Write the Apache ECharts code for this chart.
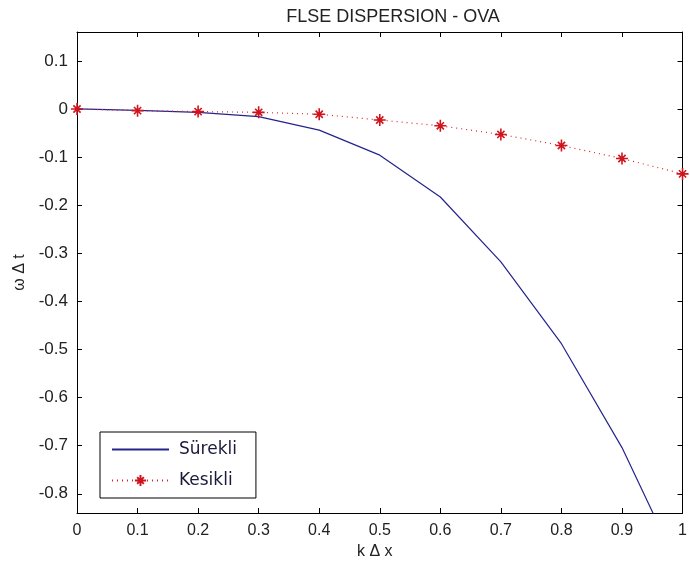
<!DOCTYPE html>
<html>
<head>
    <meta charset="UTF-8">
    <title>FLSE DISPERSION - OVA</title>
    <script src="https://cdn.jsdelivr.net/npm/echarts@6/dist/echarts.min.js"></script>
    <style>
        body { padding: 0; margin: 0; background: #fff; }
        #chart { width: 690px; height: 567px; }
    </style>
</head>
<body>
    <div id="chart"></div>
    <script>
        // k Δx values
        const kDx = [0, 0.1, 0.2, 0.3, 0.4, 0.5, 0.6, 0.7, 0.8, 0.9, 1.0];
        // Sürekli (continuous)
        const surekli = [0, -0.003, -0.007, -0.016, -0.044, -0.096, -0.183, -0.318, -0.488, -0.704, -0.97];
        // Kesikli (discrete)
        const kesikli = [0, -0.0035, -0.0055, -0.007, -0.011, -0.023, -0.035, -0.053, -0.076, -0.103, -0.135];

        const font = 'Liberation Sans, Arial, sans-serif';
        const starPath = 'path://M0,-10L0,10M-10,0L10,0M-6,-6L6,6M-6,6L6,-6';

        const chart = echarts.init(document.getElementById('chart'));

        const fmt = v => String(+v.toFixed(1));
        const baseX = {
            type: 'value', min: 0, max: 1, interval: 0.1,
            axisLine: { show: true, onZero: false, lineStyle: { color: '#000', width: 1 } },
            axisTick: { show: true, inside: true, length: 5, lineStyle: { color: '#000' } },
            splitLine: { show: false }
        };
        // y range is -0.84 .. 0.16, ticks on tenths (no fixed interval so they stay on multiples)
        const baseY = {
            type: 'value', min: -0.84, max: 0.16, splitNumber: 10,
            axisLine: { show: true, onZero: false, lineStyle: { color: '#000', width: 1 } },
            axisTick: { show: true, inside: true, length: 5, lineStyle: { color: '#000' } },
            splitLine: { show: false }
        };

        chart.setOption({
            animation: false,
            textStyle: { fontFamily: font },
            title: {
                text: 'FLSE DISPERSION - OVA', left: 388, top: 3, textAlign: 'center',
                textStyle: { fontSize: 18, fontWeight: 'normal', color: '#222', fontFamily: font }
            },
            grid: { left: 77, right: 3, top: 32, bottom: 54 },
            legend: {
                orient: 'vertical', left: 100, top: 432,
                padding: [9, 19, 9, 11],
                itemGap: 14,
                itemWidth: 57, itemHeight: 14,
                backgroundColor: '#fff',
                borderColor: '#000', borderWidth: 1,
                textStyle: { fontSize: 17, color: '#1a1a3a', fontFamily: 'DejaVu Sans, sans-serif', padding: [2, 0, 0, 5] },
                data: [
                    { name: 'Sürekli', itemStyle: { opacity: 0 } },
                    { name: 'Kesikli' }
                ]
            },
            xAxis: [
                Object.assign({}, baseX, {
                    position: 'bottom',
                    name: 'k Δ x', nameLocation: 'middle', nameGap: 21,
                    nameTextStyle: { fontSize: 16, color: '#222', fontFamily: font, padding: [0, 10, 0, 0] },
                    axisLabel: { fontSize: 16, color: '#222', margin: 10, formatter: fmt }
                }),
                Object.assign({}, baseX, { position: 'top', axisLabel: { show: false } })
            ],
            yAxis: [
                Object.assign({}, baseY, {
                    position: 'left',
                    name: 'ω Δ t', nameLocation: 'middle', nameGap: 40, nameRotate: 90,
                    nameTextStyle: { fontSize: 16, color: '#222', fontFamily: font },
                    axisLabel: { fontSize: 17, color: '#222', margin: 9, formatter: fmt,
                        showMinLabel: false, showMaxLabel: false }
                }),
                Object.assign({}, baseY, { position: 'right', axisLabel: { show: false } })
            ],
            series: [
                {
                    name: 'Sürekli', type: 'line',
                    data: kDx.map((x, i) => [x, surekli[i]]),
                    symbol: 'none',
                    lineStyle: { color: '#24248c', width: 1.2 },
                    itemStyle: { color: '#24248c' }
                },
                {
                    name: 'Kesikli', type: 'line',
                    data: kDx.map((x, i) => [x, kesikli[i]]),
                    symbol: starPath, symbolSize: 12,
                    lineStyle: { color: '#e0222a', width: 1.2, type: [1, 4] },
                    itemStyle: { color: '#d0141e', borderColor: '#d0141e', borderWidth: 1.6 },
                    clip: false
                }
            ]
        });
    </script>
</body>
</html>
